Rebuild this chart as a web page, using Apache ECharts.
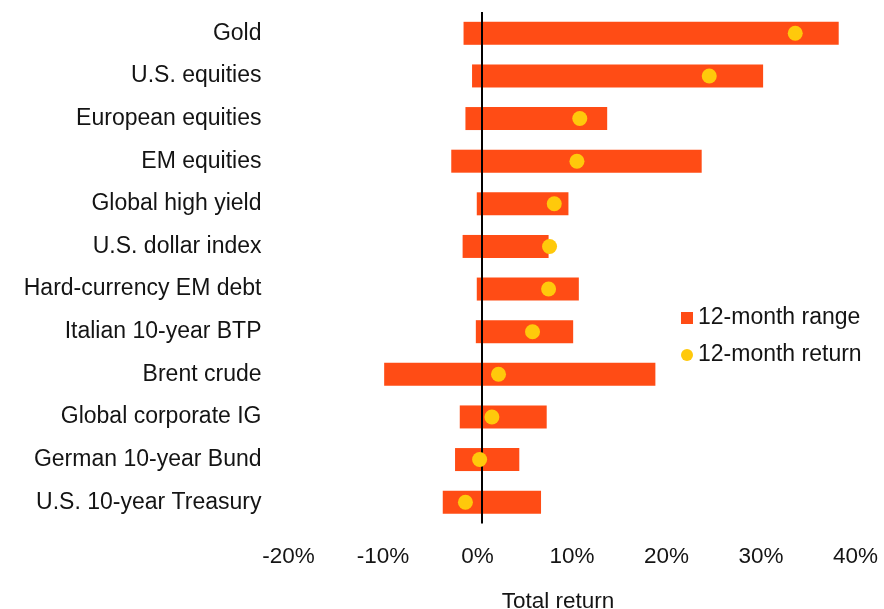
<!DOCTYPE html>
<html>
<head>
<meta charset="utf-8">
<script src="https://cdn.jsdelivr.net/npm/echarts@6/dist/echarts.min.js"></script>
<style>
  html, body { margin: 0; padding: 0; background: #fff; }
  #chart { width: 884px; height: 609px; }
</style>
</head>
<body>
<div id="chart"></div>
<script>
// assets, top to bottom
var categories = ['Gold', 'U.S. equities', 'European equities', 'EM equities', 'Global high yield',
  'U.S. dollar index', 'Hard-currency EM debt', 'Italian 10-year BTP', 'Brent crude',
  'Global corporate IG', 'German 10-year Bund', 'U.S. 10-year Treasury'];
// 12-month range, low and high end (%)
var rangeLow = [-1.9, -1.0, -1.7, -3.2, -0.5, -2.0, -0.5, -0.6, -10.3, -2.3, -2.8, -4.1];
var rangeHigh = [37.8, 29.8, 13.3, 23.3, 9.2, 7.1, 10.3, 9.7, 18.4, 6.9, 4.0, 6.3];
// 12-month return (%)
var returns = [33.2, 24.1, 10.4, 10.1, 7.7, 7.2, 7.1, 5.4, 1.8, 1.1, -0.2, -1.7];
var xTicks = [-20, 40, 10]; // min, max, step

var font = 'Liberation Sans, Arial, sans-serif';
var textColor = '#141414';
var rangeColor = '#ff4c15';
var dotColor = '#ffc90b';

var myChart = echarts.init(document.getElementById('chart'));

var option = {
  backgroundColor: '#fff',
  animation: false,
  textStyle: { fontFamily: font },
  grid: {
    left: 292.5,
    right: 24.5,
    top: 12,
    bottom: 85.5,
    outerBoundsMode: 'none'
  },
  legend: {
    orient: 'vertical',
    left: 681,
    top: 306,
    padding: 0,
    itemWidth: 12,
    itemHeight: 12,
    itemGap: 13,
    textStyle: { fontFamily: font, fontSize: 23, color: textColor, lineHeight: 24 },
    data: [
      { name: '12-month range', icon: 'rect' },
      { name: '12-month return', icon: 'circle' }
    ]
  },
  xAxis: {
    type: 'value',
    min: xTicks[0],
    max: xTicks[1],
    interval: xTicks[2],
    splitLine: { show: false },
    axisLine: { show: false },
    axisTick: { show: false },
    axisLabel: {
      formatter: '{value}%',
      fontFamily: font,
      fontSize: 22.5,
      color: textColor,
      margin: 22,
      padding: [0, 8, 0, 0]
    },
    name: 'Total return',
    nameLocation: 'middle',
    nameGap: 67,
    nameTextStyle: {
      fontFamily: font,
      fontSize: 22.5,
      color: textColor,
      padding: [0, 36, 0, 0]
    }
  },
  yAxis: {
    type: 'category',
    data: categories,
    inverse: true,
    axisLine: { show: false },
    axisTick: { show: false },
    splitLine: { show: false },
    axisLabel: {
      fontFamily: font,
      fontSize: 23,
      color: textColor,
      margin: 31
    }
  },
  series: [
    {
      name: '12-month range',
      type: 'bar',
      data: rangeLow,
      barWidth: 23,
      barGap: '-100%',
      itemStyle: { color: rangeColor },
      markLine: {
        silent: true,
        symbol: 'none',
        label: { show: false },
        lineStyle: { color: '#000', width: 2, type: 'solid' },
        data: [{ xAxis: 0 }]
      },
      z: 2
    },
    {
      name: '12-month range',
      type: 'bar',
      data: rangeHigh,
      barWidth: 23,
      barGap: '-100%',
      itemStyle: { color: rangeColor },
      z: 2
    },
    {
      name: '12-month return',
      type: 'scatter',
      data: returns.map(function (v, i) { return [v, categories[i]]; }),
      symbolSize: 15,
      itemStyle: { color: dotColor, opacity: 1 },
      z: 5
    }
  ]
};

myChart.setOption(option);

window.addEventListener('resize', function () {
  myChart.resize();
});
</script>
</body>
</html>
